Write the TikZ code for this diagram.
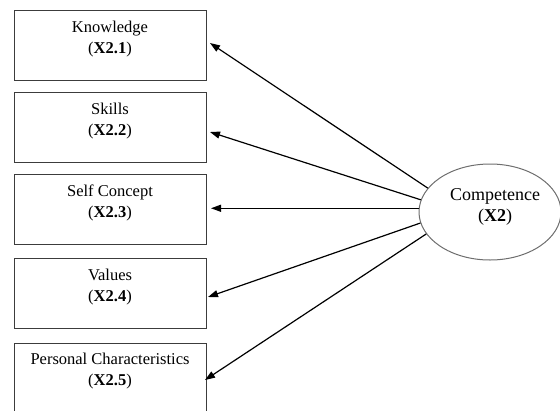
\documentclass[tikz,border=0pt]{standalone}
\usepackage{fontspec}
\setmainfont{Liberation Serif}
\usetikzlibrary{arrows.meta,shapes.geometric}
\definecolor{boxgray}{RGB}{60,60,60}
\definecolor{ellgray}{RGB}{110,110,110}
\begin{document}
\begin{tikzpicture}[x=1pt,y=-1pt,
  box/.style={draw=boxgray,line width=1pt,minimum width=192pt,minimum height=70pt,inner sep=0pt,anchor=north west},
  lbl/.style={anchor=base,inner sep=0pt,font=\fontsize{16.5}{20}\selectfont},
  ell/.style={ellipse,draw=ellgray,line width=1pt,minimum width=142pt,minimum height=96pt,inner sep=0pt},
  big/.style={anchor=base,inner sep=0pt,font=\fontsize{18}{22}\selectfont},
  arr/.style={-{Triangle[length=10pt,width=7pt]},line width=1.2pt,draw=black}]
\useasboundingbox (0,0) rectangle (560,410);
\clip (0,0) rectangle (560,410);
% boxes
\node[box] (b1) at (14,10) {};
\node[box] (b2) at (14,92) {};
\node[box] (b3) at (14,174) {};
\node[box] (b4) at (14,258) {};
\node[box] (b5) at (14,343) {};
% box texts
\node[lbl] (t1a) at (110,32) {Knowledge};
\node[lbl] (t1b) at (110,53) {(\textbf{X2.1})};
\node[lbl] (t2a) at (110,114) {Skills};
\node[lbl] (t2b) at (110,135) {(\textbf{X2.2})};
\node[lbl] (t3a) at (110,196) {Self Concept};
\node[lbl] (t3b) at (110,217) {(\textbf{X2.3})};
\node[lbl] (t4a) at (110,280) {Values};
\node[lbl] (t4b) at (110,301) {(\textbf{X2.4})};
\node[lbl] (t5a) at (110,364) {Personal Characteristics};
\node[lbl] (t5b) at (110,385) {(\textbf{X2.5})};
% ellipse
\node[ell] (c) at (490,212) {};
\node[big] (ca) at (495,200) {Competence};
\node[big] (cb) at (495,221) {(\textbf{X2})};
% arrow tips
\coordinate (p1) at (210,43);
\coordinate (p2) at (210,132);
\coordinate (p4) at (208,297);
\coordinate (p5) at (205,380);
\draw[arr] (c.159.6) -- (p1);
\draw[arr] (c.170) -- (p2);
\draw[arr] (c.177.6) -- ([xshift=4pt]c.177.6 -| b3.east);
\draw[arr] (c.189.2) -- (p4);
\draw[arr] (c.199.5) -- (p5);
\end{tikzpicture}
\end{document}
